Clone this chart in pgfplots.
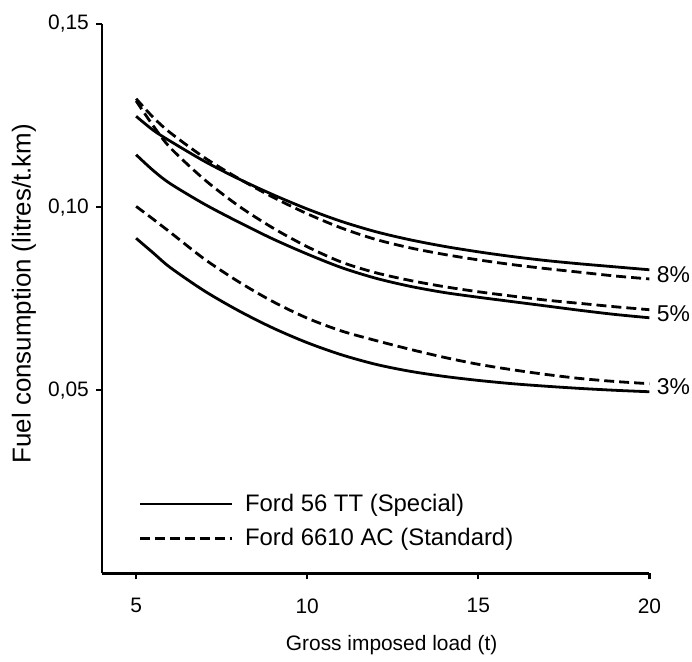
\documentclass[border=0pt]{standalone}
\usepackage{fontspec}
\setmainfont{Liberation Sans}
\usepackage{pgfplots}
\pgfplotsset{compat=1.18}
\usepackage{pgfplotstable}

\pgfplotstableread{
x    s8     d8     s5     d5     s3     d3
5    0.1248 0.1296 0.1143 0.1290 0.0915 0.1002
5.5  0.1210 0.1245 0.1100 0.1222 0.0875 0.0967
6    0.1180 0.1203 0.1064 0.1162 0.0835 0.0931
7    0.1125 0.1135 0.1008 0.1075 0.0771 0.0858
8    0.1077 0.1078 0.0959 0.1003 0.0717 0.0796
9    0.1034 0.1027 0.0913 0.0943 0.0670 0.0742
10   0.0995 0.0982 0.0872 0.0892 0.0630 0.0697
11   0.0961 0.0943 0.0835 0.0850 0.0597 0.0662
12   0.0933 0.0912 0.0806 0.0821 0.0571 0.0636
13   0.0911 0.0889 0.0784 0.0800 0.0552 0.0612
14   0.0893 0.0871 0.0767 0.0783 0.0538 0.0590
15   0.0878 0.0856 0.0754 0.0769 0.0527 0.0571
16   0.0865 0.0843 0.0742 0.0757 0.0518 0.0556
17   0.0854 0.0832 0.0730 0.0746 0.0511 0.0543
18   0.0845 0.0822 0.0718 0.0737 0.0505 0.0532
19   0.0837 0.0812 0.0707 0.0728 0.0500 0.0524
20   0.0829 0.0804 0.0698 0.0720 0.0496 0.0518
}\data

\begin{document}
\begin{tikzpicture}
\begin{axis}[
  scale only axis,
  width=274bp, height=275bp,
  xmin=4, xmax=20, ymin=0, ymax=0.15,
  axis lines=left,
  axis line style={-, line width=1.2bp},
  xtick={5,10,15,20}, xticklabels={5,10,15,20},
  ytick={0.05,0.1,0.15}, yticklabels={0{,}05,0{,}10,0{,}15},
  tick align=outside, major tick length=3bp,
  tick style={line width=1.2bp, black},
  ticklabel style={font=\fontsize{10.5}{12}\selectfont},
  xticklabel style={yshift=-6bp},
  xlabel={Gross imposed load (t)},
  ylabel={Fuel consumption (litres/t.km)},
  xlabel style={font=\fontsize{10.5}{12}\selectfont, yshift=-4bp, xshift=8bp},
  ylabel style={font=\fontsize{13}{15}\selectfont, at={(rel axis cs:0,0.5)},
    anchor=center, rotate=0, yshift=39bp, xshift=2.5bp},
  clip=false,
  legend style={draw=none, fill=none, at={(rel axis cs:0.055,0.16)}, anchor=north west,
    font=\fontsize{12}{14}\selectfont, row sep=3bp},
  legend cell align=left,
  legend image code/.code={\draw[#1] (0bp,0bp) -- (46bp,0bp); \path (50bp,0bp);},
]
\addplot[black, line width=1.4bp, smooth, tension=0.5] table[x=x, y=s8] {\data};
\addlegendentry{Ford 56 TT (Special)}
\addplot[black, line width=1.4bp, smooth, tension=0.5, dash pattern=on 5bp off 2.5bp] table[x=x, y=d8] {\data};
\addlegendentry{Ford 6610 AC (Standard)}
\addplot[forget plot, black, line width=1.4bp, smooth, tension=0.5] table[x=x, y=s5] {\data};
\addplot[forget plot, black, line width=1.4bp, smooth, tension=0.5, dash pattern=on 5bp off 2.5bp] table[x=x, y=d5] {\data};
\addplot[forget plot, black, line width=1.4bp, smooth, tension=0.5] table[x=x, y=s3] {\data};
\addplot[forget plot, black, line width=1.4bp, smooth, tension=0.5, dash pattern=on 5bp off 2.5bp] table[x=x, y=d3] {\data};
\node[anchor=west, font=\fontsize{11.5}{13}\selectfont, inner sep=1bp] at (axis cs:20.15,0.0815) {8\%};
\node[anchor=west, font=\fontsize{11.5}{13}\selectfont, inner sep=1bp] at (axis cs:20.15,0.0710) {5\%};
\node[anchor=west, font=\fontsize{11.5}{13}\selectfont, inner sep=1bp] at (axis cs:20.15,0.0510) {3\%};
\end{axis}
\path ([shift={(-51bp,-43.5bp)}]current axis.south west) rectangle ([shift={(21bp,12bp)}]current axis.north east);
\end{tikzpicture}
\end{document}
